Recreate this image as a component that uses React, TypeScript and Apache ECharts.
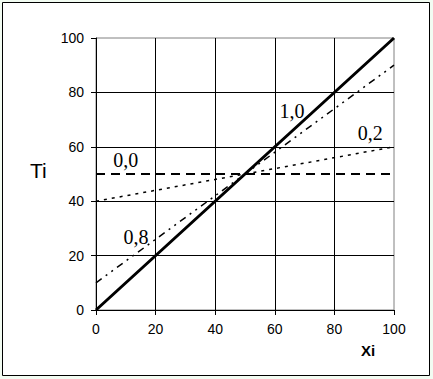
import React, { useEffect, useRef } from "react";
import * as echarts from "echarts";

const xValues = [0, 50, 100];
const series00 = [50, 50, 50];
const series02 = [40, 50, 60];
const series08 = [10, 50, 90];
const series10 = [0, 50, 100];
const xTicks = [0, 20, 40, 60, 80, 100];
const yTicks = [0, 20, 40, 60, 80, 100];
const lineNames = ["0,0", "0,2", "0,8", "1,0"];
// label anchors in data coordinates [x, y]
const labelAnchors: [number, number][] = [
  [10, 55],
  [92, 65],
  [13.4, 26.8],
  [65.8, 73.2],
];

export default function App() {
  const ref = useRef<HTMLDivElement>(null);
  useEffect(() => {
    if (!ref.current) return;
    const chart = echarts.init(ref.current, null, { renderer: "svg" });
    const pair = (ys: number[]) => xValues.map((x, i) => [x, ys[i]]);
    const axisCommon = {
      type: "value" as const,
      min: 0,
      max: 100,
      interval: 20,
      axisLine: { show: true, lineStyle: { color: "#000", width: 1 } },
      axisTick: { show: true, length: 5, lineStyle: { color: "#000" } },
      splitLine: { show: true, showMaxLine: false, lineStyle: { color: "#000", width: 1 } },
      axisLabel: {
        color: "#000",
        fontFamily: "Liberation Sans, Arial, sans-serif",
        fontSize: 14,
      },
    };
    chart.setOption({
      animation: false,
      backgroundColor: "#f2fcf2",
      graphic: [
        {
          type: "rect",
          z: -10,
          shape: { x: 2.5, y: 2.5, width: 427, height: 373 },
          style: { fill: "#fff", stroke: "#000", lineWidth: 1 },
        },
        {
          type: "text",
          left: 30,
          top: 160,
          style: { text: "Ti", fontSize: 21, fill: "#000", fontFamily: "Liberation Sans, Arial, sans-serif" },
        },
        {
          type: "text",
          left: 361,
          top: 343,
          style: { text: "Xi", fontSize: 15, fontWeight: "bold", fill: "#000", fontFamily: "Liberation Sans, Arial, sans-serif" },
        },
      ],
      grid: {
        left: 96,
        top: 38,
        width: 298,
        height: 272,
        show: true,
        borderColor: "#808080",
        borderWidth: 1,
        backgroundColor: "transparent",
      },
      xAxis: {
        ...axisCommon,
        axisLabel: { ...axisCommon.axisLabel, margin: 12, formatter: (v: number) => (xTicks.includes(v) ? String(v) : "") },
      },
      yAxis: {
        ...axisCommon,
        axisLabel: { ...axisCommon.axisLabel, margin: 12, formatter: (v: number) => (yTicks.includes(v) ? String(v) : "") },
      },
      series: [
        {
          name: lineNames[0],
          type: "line",
          data: pair(series00),
          symbol: "none",
          lineStyle: { color: "#000", width: 2, type: [9, 6] },
        },
        {
          name: lineNames[1],
          type: "line",
          data: pair(series02),
          symbol: "none",
          lineStyle: { color: "#000", width: 1.5, type: [3, 5] },
        },
        {
          name: lineNames[2],
          type: "line",
          data: pair(series08),
          symbol: "none",
          lineStyle: { color: "#000", width: 1.5, type: [7, 5, 2, 5, 2, 5] },
        },
        {
          name: lineNames[3],
          type: "line",
          data: pair(series10),
          symbol: "none",
          lineStyle: { color: "#000", width: 3 },
        },
        {
          type: "scatter",
          symbolSize: 0,
          silent: true,
          itemStyle: { opacity: 1, color: "#000" },
          data: labelAnchors.map((p, i) => ({ value: p, name: lineNames[i] })),
          label: {
            show: true,
            position: "inside",
            formatter: (p: any) => p.name,
            color: "#000",
            opacity: 1,
            fontFamily: "Liberation Serif, Times New Roman, serif",
            fontSize: 20,
          },
          z: 10,
        },
      ],
    });
    return () => chart.dispose();
  }, []);
  return (
    <div style={{ position: "absolute", left: 0, top: 0, width: 433, height: 379 }}>
      <div ref={ref} style={{ width: 433, height: 379 }} />
    </div>
  );
}
